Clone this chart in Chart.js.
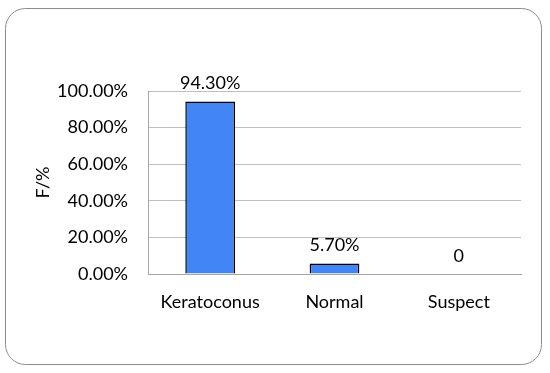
<!DOCTYPE html>
<html>
<head>
<meta charset="utf-8">
<script src="https://cdn.jsdelivr.net/npm/chart.js@4"></script>
<style>
  html, body { margin: 0; padding: 0; background: #fff; }
  #wrap { width: 550px; height: 373px; }
</style>
</head>
<body>
<div id="wrap"><canvas id="barChart"></canvas></div>
<script>
const categories = ["Keratoconus", "Normal", "Suspect"];
const values = [94.3, 5.7, 0];
const valueLabels = ["94.30%", "5.70%", "0"];
const yTicks = [0, 20, 40, 60, 80, 100];

const FONT = "Lato";

// marco redondeado y etiquetas sobre las barras
const extras = {
  id: "extras",
  beforeDraw(chart) {
    const c = chart.ctx;
    c.save();
    c.strokeStyle = "#8c8c8c";
    c.lineWidth = 1;
    c.beginPath();
    c.roundRect(5.5, 8.5, 536, 356, 20);
    c.stroke();
    c.restore();
  },
  afterDatasetsDraw(chart) {
    const c = chart.ctx;
    const meta = chart.getDatasetMeta(0);
    c.save();
    c.font = "18px " + FONT;
    c.fillStyle = "#000";
    c.textAlign = "center";
    c.textBaseline = "middle";
    meta.data.forEach((bar, i) => {
      c.fillText(valueLabels[i], bar.x, bar.y - 18);
    });
    c.restore();
  }
};

new Chart(document.getElementById("barChart"), {
  type: "bar",
  data: {
    labels: categories,
    datasets: [{
      data: values,
      backgroundColor: "#4285f4",
      borderColor: "#000",
      borderWidth: 1.5,
      barPercentage: 0.4,
      categoryPercentage: 1,
    }],
  },
  options: {
    responsive: true,
    maintainAspectRatio: false,
    animation: false,
    layout: { padding: { top: 91, right: 29, left: 0, bottom: 0 } },
    plugins: {
      legend: { display: false },
      tooltip: { enabled: false },
    },
    scales: {
      x: {
        grid: { display: false },
        border: { color: "#a6a6a6" },
        ticks: { color: "#000", font: { family: FONT, size: 18 }, padding: 9 },
        afterFit(s) { s.height = 99; },
      },
      y: {
        min: 0,
        max: 100,
        afterBuildTicks(s) { s.ticks = yTicks.map(v => ({ value: v })); },
        grid: { color: "#bfbfbf", drawTicks: false },
        border: { color: "#a6a6a6" },
        ticks: {
          color: "#000",
          font: { family: FONT, size: 18 },
          padding: 20,
          callback: v => v.toFixed(2) + "%",
        },
        title: {
          display: true,
          text: "F/%",
          color: "#000",
          font: { family: FONT, size: 18 },
          padding: { top: 32, bottom: 0 },
        },
        afterFit(s) { s.width = 148; },
      },
    },
  },
  plugins: [extras],
});
</script>
</body>
</html>
